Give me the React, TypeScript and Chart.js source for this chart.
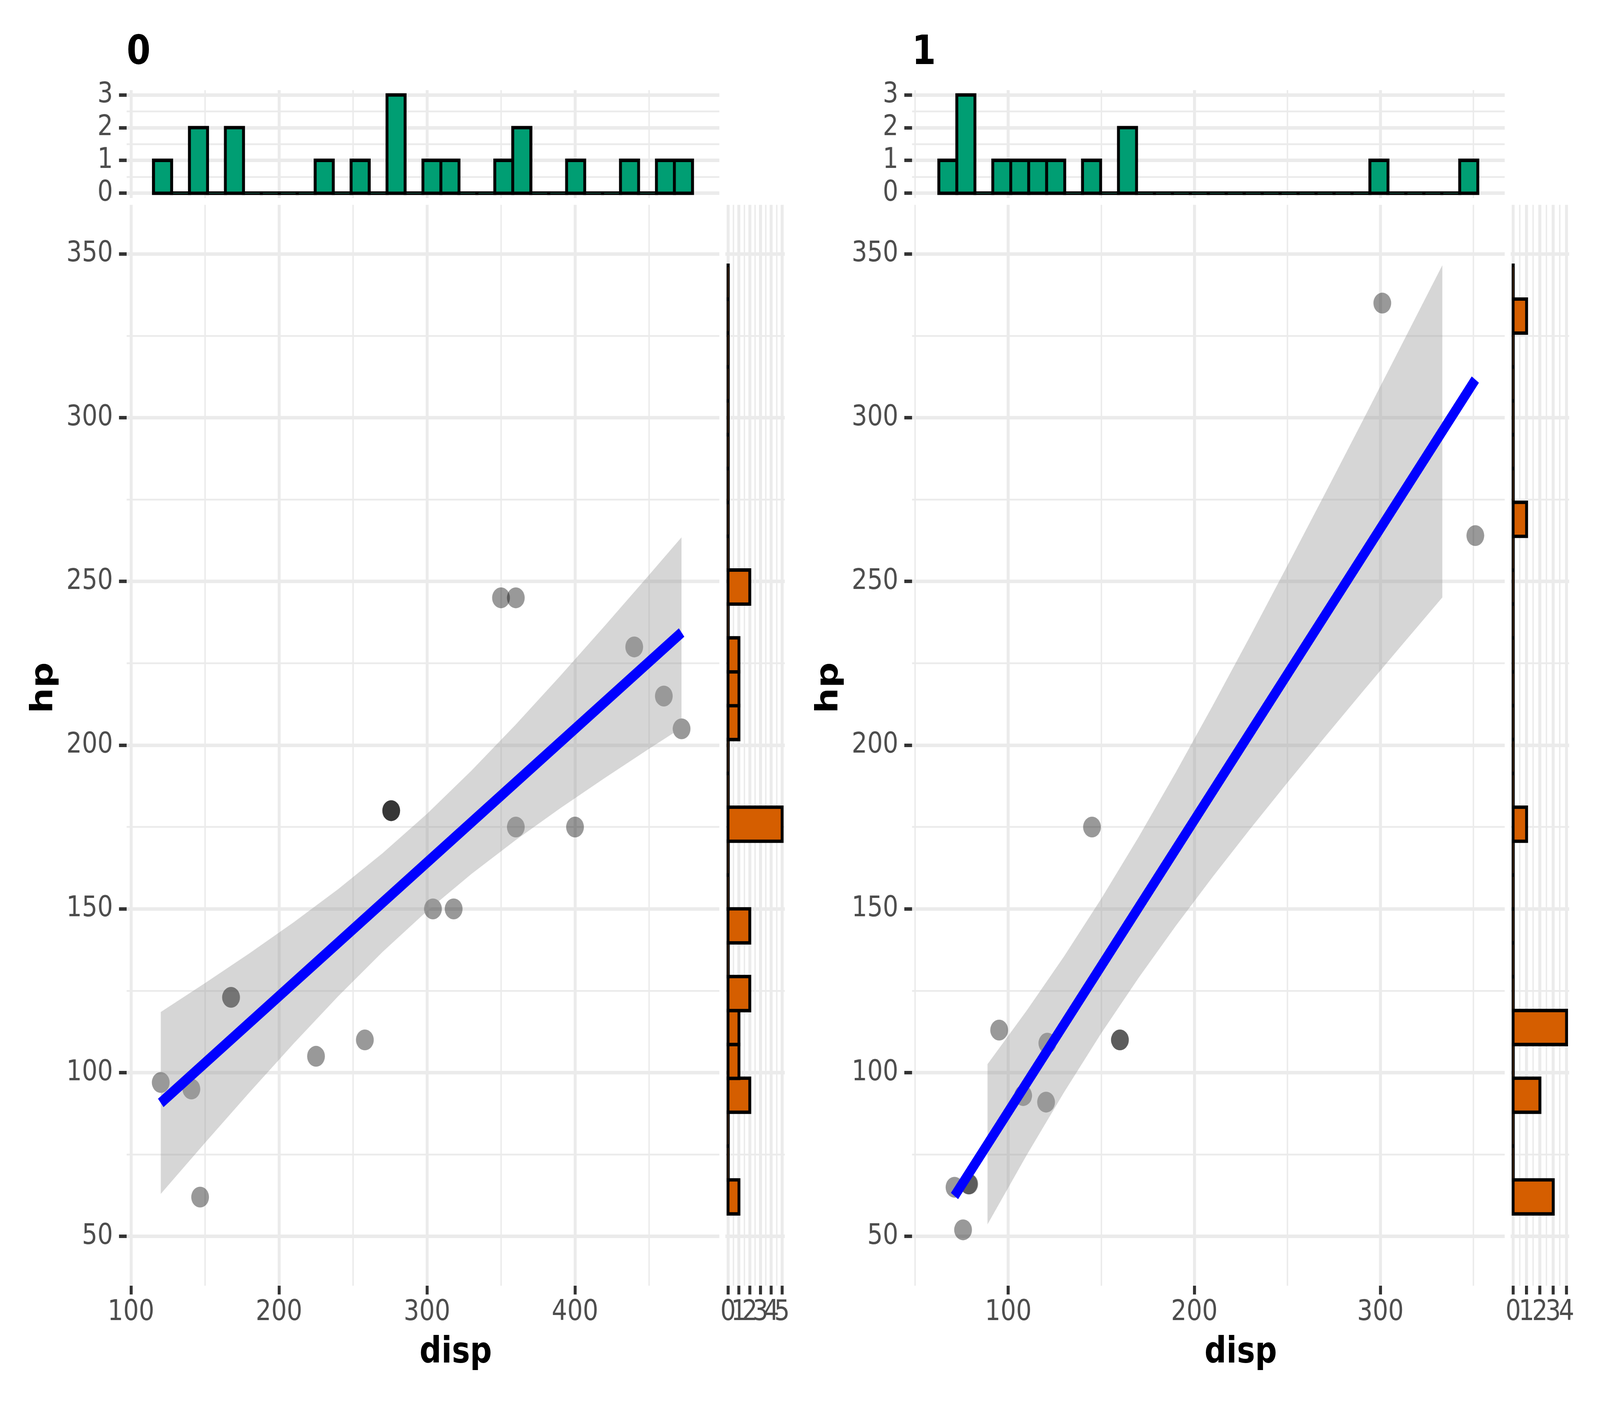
import React, { useEffect, useRef } from "react";
import { Chart, registerables } from "chart.js";

Chart.register(...registerables);

const FONT = "'DejaVu Sans', sans-serif";

// ---------------- data (mtcars, split by am) ----------------
const disp0 = [258, 360, 225, 360, 146.7, 140.8, 167.6, 167.6, 275.8, 275.8, 275.8, 472, 460, 440, 120.1, 318, 304, 350, 400];
const hp0 = [110, 175, 105, 245, 62, 95, 123, 123, 180, 180, 180, 205, 215, 230, 97, 150, 150, 245, 175];
const disp1 = [160, 160, 108, 78.7, 75.7, 71.1, 79, 120.3, 95.1, 351, 145, 301, 121];
const hp1 = [110, 110, 93, 66, 52, 65, 66, 91, 113, 264, 175, 335, 109];

// linear fit (blue line) end points
const fitDisp0 = [120.1, 472];
const fitHp0 = [90.75, 234.41];
const fitDisp1 = [71.1, 351];
const fitHp1 = [62.33, 311.64];

// confidence band (grey ribbon)
const bandDisp0 = [120.1, 150, 180, 210, 240, 270, 300, 330, 360, 390, 420, 450, 472];
const bandLow0 = [62.98, 78.57, 93.96, 108.95, 123.34, 136.88, 149.33, 160.66, 171.04, 180.73, 189.96, 198.89, 205.3];
const bandHigh0 = [118.52, 127.34, 136.44, 145.95, 156.05, 167.01, 179.05, 192.22, 206.33, 221.14, 236.4, 251.97, 263.52];
const bandDisp1 = [88.8, 110, 130, 150, 170, 190, 210, 230, 250, 270, 290, 310, 333.3];
const bandLow1 = [53.62, 74.91, 94.04, 112.06, 128.93, 144.81, 159.9, 174.42, 188.55, 202.4, 216.04, 229.55, 245.15];
const bandHigh1 = [102.57, 119.05, 135.55, 153.16, 171.91, 191.67, 212.21, 233.31, 254.82, 276.6, 298.58, 320.71, 346.61];

// top marginal histograms of disp (bin centres and counts)
const dispBins0 = [121.34, 133.48, 145.61, 157.75, 169.88, 182.02, 194.15, 206.29, 218.42, 230.56, 242.69, 254.82, 266.96, 279.09, 291.23, 303.36, 315.5, 327.63, 339.77, 351.9, 364.03, 376.17, 388.3, 400.44, 412.57, 424.71, 436.84, 448.98, 461.11, 473.24];
const dispCounts0 = [1, 0, 2, 0, 2, 0, 0, 0, 0, 1, 0, 1, 0, 3, 0, 1, 1, 0, 0, 1, 2, 0, 0, 1, 0, 0, 1, 0, 1, 1];
const dispBins1 = [67.56, 77.21, 86.87, 96.52, 106.17, 115.82, 125.47, 135.12, 144.78, 154.43, 164.08, 173.73, 183.38, 193.03, 202.69, 212.34, 221.99, 231.64, 241.29, 250.94, 260.6, 270.25, 279.9, 289.55, 299.2, 308.86, 318.51, 328.16, 337.81, 347.46];
const dispCounts1 = [1, 3, 0, 1, 1, 1, 1, 0, 1, 0, 2, 0, 0, 0, 0, 0, 0, 0, 0, 0, 0, 0, 0, 0, 1, 0, 0, 0, 0, 1];

// right marginal histograms of hp (bin centres and counts)
const hpBins = [62.07, 72.41, 82.76, 93.1, 103.45, 113.79, 124.14, 134.48, 144.83, 155.17, 165.52, 175.86, 186.21, 196.55, 206.9, 217.24, 227.59, 237.93, 248.28, 258.62, 268.97, 279.31, 289.66, 300.0, 310.34, 320.69, 331.03, 341.38];
const hpCounts0 = [1, 0, 0, 2, 1, 1, 2, 0, 2, 0, 0, 5, 0, 0, 1, 1, 1, 0, 2, 0, 0, 0, 0, 0, 0, 0, 0, 0];
const hpCounts1 = [3, 0, 0, 2, 0, 4, 0, 0, 0, 0, 0, 1, 0, 0, 0, 0, 0, 0, 0, 0, 1, 0, 0, 0, 0, 0, 1, 0];

// axes: ranges, tick positions and labelled ticks
const dispRange0 = [97.08, 497.51];
const dispRange1 = [48.26, 366.77];
const hpRange = [35, 365];
const topCountRange = [-0.15, 3.15];
const sideCountRange0 = [-0.25, 5.25];
const sideCountRange1 = [-0.2, 4.2];

const dispTicks0 = [100, 150, 200, 250, 300, 350, 400, 450];
const dispLabels0 = [100, 200, 300, 400];
const dispTicks1 = [50, 100, 150, 200, 250, 300, 350];
const dispLabels1 = [100, 200, 300];
const hpTicks = [50, 75, 100, 125, 150, 175, 200, 225, 250, 275, 300, 325, 350];
const hpLabels = [50, 100, 150, 200, 250, 300, 350];
const topCountTicks = [0, 0.5, 1, 1.5, 2, 2.5, 3];
const topCountLabels = [0, 1, 2, 3];
const sideCountTicks0 = [0, 0.5, 1, 1.5, 2, 2.5, 3, 3.5, 4, 4.5, 5];
const sideCountLabels0 = [0, 1, 2, 3, 4, 5];
const sideCountTicks1 = [0, 0.5, 1, 1.5, 2, 2.5, 3, 3.5, 4];
const sideCountLabels1 = [0, 1, 2, 3, 4];

const panelTitles = ["0", "1"];
const xTitle = "disp";
const yTitle = "hp";

// ---------------- styling / layout (design px of a 4800x3600 frame) ----------------
const W0 = 4800;
const H0 = 3600;
const fitK = (v: number, d: number) => (isFinite(v) && v > 0 ? v / d : 1);
const KX = typeof window !== "undefined" ? fitK(window.innerWidth, W0) : 1;
const KY = typeof window !== "undefined" ? fitK(window.innerHeight, H0) : 1;
const DPR = typeof window !== "undefined" && window.devicePixelRatio ? window.devicePixelRatio : 1;

const GRID = "#EBEBEB";
const MAJOR_W = 8.9;
const MINOR_W = 4.45;
const TICK_LEN = 23;
const TICK_FONT = 73.3;

type AxisOpts = {
  range: number[];
  ticks: number[];
  labels: number[];
  show: boolean;
  position: string;
  horizontal: boolean;
  size: number; // forced axis thickness
  padding?: number;
};

function linAxis(o: AxisOpts) {
  const isMajor = (v: number) => o.labels.some((m) => Math.abs(m - v) < 1e-9);
  return {
    type: "linear",
    position: o.position,
    min: o.range[0],
    max: o.range[1],
    offset: false,
    bounds: "data",
    grace: 0,
    afterBuildTicks: (s: any) => {
      s.ticks = o.ticks.map((v) => ({ value: v }));
    },
    afterFit: (s: any) => {
      if (o.horizontal) s.height = o.size;
      else s.width = o.size;
    },
    border: { display: false },
    grid: {
      display: true,
      offset: false,
      color: GRID,
      lineWidth: (c: any) => (c.tick && isMajor(c.tick.value) ? MAJOR_W : MINOR_W),
      drawTicks: o.show,
      tickLength: TICK_LEN,
      tickWidth: MAJOR_W,
      tickColor: (c: any) => (c.tick && isMajor(c.tick.value) ? "#333333" : "rgba(0,0,0,0)"),
    },
    ticks: {
      display: o.show,
      autoSkip: false,
      maxRotation: 0,
      minRotation: 0,
      padding: o.padding ?? 0,
      color: "#4D4D4D",
      font: { family: FONT, size: TICK_FONT },
      callback: (v: number) => (isMajor(v) ? String(v) : ""),
    },
  };
}

function baseOptions() {
  return {
    responsive: false,
    animation: false,
    devicePixelRatio: DPR,
    events: [],
    plugins: { legend: { display: false }, tooltip: { enabled: false }, title: { display: false } },
  } as any;
}

type Facet = {
  disp: number[];
  hp: number[];
  fitX: number[];
  fitY: number[];
  bandX: number[];
  bandLo: number[];
  bandHi: number[];
  xBins: number[];
  xCounts: number[];
  yCounts: number[];
  dispRange: number[];
  dispTicks: number[];
  dispLabels: number[];
  sideRange: number[];
  sideTicks: number[];
  sideLabels: number[];
  mainArea: number[];
  mainBox: number[];
  topArea: number[];
  topBox: number[];
  sideArea: number[];
  sideBox: number[];
  titleX: number;
  hpX: number;
  dispX: number;
};

const ROW_TOP = [230.7, 507.2];
const ROW_MAIN = [524.5, 3291.5];

const facets: Facet[] = [
  {
    disp: disp0, hp: hp0, fitX: fitDisp0, fitY: fitHp0,
    bandX: bandDisp0, bandLo: bandLow0, bandHi: bandHigh0,
    xBins: dispBins0, xCounts: dispCounts0, yCounts: hpCounts0,
    dispRange: dispRange0, dispTicks: dispTicks0, dispLabels: dispLabels0,
    sideRange: sideCountRange0, sideTicks: sideCountTicks0, sideLabels: sideCountLabels0,
    mainArea: [380, ROW_MAIN[0], 2158, ROW_MAIN[1]], mainBox: [100, 450, 2200, 3420],
    topArea: [380, ROW_TOP[0], 2158, ROW_TOP[1]], topBox: [100, 150, 2200, 580],
    sideArea: [2176.2, ROW_MAIN[0], 2354.2, ROW_MAIN[1]], sideBox: [2100, 450, 2420, 3420],
    titleX: 380, hpX: 157, dispX: 1367.1,
  },
  {
    disp: disp1, hp: hp1, fitX: fitDisp1, fitY: fitHp1,
    bandX: bandDisp1, bandLo: bandLow1, bandHi: bandHigh1,
    xBins: dispBins1, xCounts: dispCounts1, yCounts: hpCounts1,
    dispRange: dispRange1, dispTicks: dispTicks1, dispLabels: dispLabels1,
    sideRange: sideCountRange1, sideTicks: sideCountTicks1, sideLabels: sideCountLabels1,
    mainArea: [2736, ROW_MAIN[0], 4514, ROW_MAIN[1]], mainBox: [2450, 450, 4560, 3420],
    topArea: [2736, ROW_TOP[0], 4514, ROW_TOP[1]], topBox: [2450, 150, 4560, 580],
    sideArea: [4531.5, ROW_MAIN[0], 4707.5, ROW_MAIN[1]], sideBox: [4460, 450, 4790, 3420],
    titleX: 2736, hpX: 2512.5, dispX: 3722.2,
  },
];

// geometry helper: integer canvas box + exact chart area inside it
type Geo = {
  L: number; T: number; W: number; H: number;
  left: number; top: number; right: number; bottom: number;
  areaW: number; areaH: number;
};
function geometry(box: number[], area: number[]): Geo {
  const [L, T, R, B] = box;
  return {
    L, T, W: R - L, H: B - T,
    left: area[0] - L,
    top: area[1] - T,
    right: R - area[2],
    bottom: B - area[3],
    areaW: area[2] - area[0],
    areaH: area[3] - area[1],
  };
}

function mainConfig(f: Facet, g: Geo) {
  const options = baseOptions();
  options.layout = { autoPadding: false, padding: { left: 0, top: g.top, right: g.right, bottom: 0 } };
  options.scales = {
    x: linAxis({ range: f.dispRange, ticks: f.dispTicks, labels: f.dispLabels, show: true, position: "bottom", horizontal: true, size: g.bottom, padding: 2 }),
    y: linAxis({ range: hpRange, ticks: hpTicks, labels: hpLabels, show: true, position: "left", horizontal: false, size: g.left, padding: 18 }),
  };
  return {
    type: "scatter",
    data: {
      datasets: [
        {
          type: "line",
          data: f.fitX.map((x, i) => ({ x, y: f.fitY[i] })),
          borderColor: "#0000FF",
          borderWidth: 27,
          borderCapStyle: "butt",
          pointRadius: 0,
          fill: false,
          order: 0,
        },
        {
          type: "line",
          data: f.bandX.map((x, i) => ({ x, y: f.bandHi[i] })),
          borderColor: "rgba(0,0,0,0)",
          borderWidth: 0,
          pointRadius: 0,
          fill: "+1",
          backgroundColor: "rgba(153,153,153,0.4)",
          order: 1,
        },
        {
          type: "line",
          data: f.bandX.map((x, i) => ({ x, y: f.bandLo[i] })),
          borderColor: "rgba(0,0,0,0)",
          borderWidth: 0,
          pointRadius: 0,
          fill: false,
          order: 2,
        },
        {
          type: "scatter",
          data: f.disp.map((x, i) => ({ x, y: f.hp[i] })),
          pointRadius: 26.7,
          backgroundColor: "rgba(0,0,0,0.4)",
          borderColor: "rgba(0,0,0,0)",
          borderWidth: 0,
          order: 3,
        },
      ],
    },
    options,
  };
}

// Histogram rectangles: the outline is centred on the bin edges (as in ggplot),
// so each bar is widened by one stroke width and extended half a stroke past 0 and the count.
function topConfig(f: Facet, g: Geo) {
  const options = baseOptions();
  options.layout = { autoPadding: false, padding: { left: 0, top: g.top, right: g.right, bottom: g.bottom } };
  options.scales = {
    x: linAxis({ range: f.dispRange, ticks: f.dispTicks, labels: f.dispLabels, show: false, position: "bottom", horizontal: true, size: 0 }),
    y: linAxis({ range: topCountRange, ticks: topCountTicks, labels: topCountLabels, show: true, position: "left", horizontal: false, size: g.left, padding: 18 }),
  };
  const pxPerCount = g.areaH / (topCountRange[1] - topCountRange[0]);
  const pxPerDisp = g.areaW / (f.dispRange[1] - f.dispRange[0]);
  const half = MAJOR_W / 2 / pxPerCount;
  const thickness = (f.xBins[1] - f.xBins[0]) * pxPerDisp + MAJOR_W;
  return {
    type: "bar",
    data: {
      datasets: [
        {
          type: "bar",
          data: f.xBins.map((x, i) => ({ x, y: [-half, f.xCounts[i] + half] })),
          backgroundColor: "#009E73",
          borderColor: "#000000",
          borderWidth: MAJOR_W,
          borderSkipped: false,
          barThickness: thickness,
          grouped: false,
        },
      ],
    },
    options,
  };
}

function sideConfig(f: Facet, g: Geo) {
  const options = baseOptions();
  options.indexAxis = "y";
  options.layout = { autoPadding: false, padding: { left: g.left, top: g.top, right: g.right, bottom: 0 } };
  options.scales = {
    x: linAxis({ range: f.sideRange, ticks: f.sideTicks, labels: f.sideLabels, show: true, position: "bottom", horizontal: true, size: g.bottom, padding: 2 }),
    y: linAxis({ range: hpRange, ticks: hpTicks, labels: hpLabels, show: false, position: "left", horizontal: false, size: 0 }),
  };
  const pxPerCount = g.areaW / (f.sideRange[1] - f.sideRange[0]);
  const pxPerHp = g.areaH / (hpRange[1] - hpRange[0]);
  const half = MAJOR_W / 2 / pxPerCount;
  const thickness = (hpBins[1] - hpBins[0]) * pxPerHp + MAJOR_W;
  return {
    type: "bar",
    data: {
      datasets: [
        {
          type: "bar",
          data: hpBins.map((y, i) => ({ x: [-half, f.yCounts[i] + half], y })),
          backgroundColor: "#D55E00",
          borderColor: "#000000",
          borderWidth: MAJOR_W,
          borderSkipped: false,
          barThickness: thickness,
          grouped: false,
        },
      ],
    },
    options,
  };
}

function ChartCanvas({ box, area, make }: { box: number[]; area: number[]; make: (g: Geo) => any }) {
  const ref = useRef<HTMLCanvasElement | null>(null);
  const g = geometry(box, area);
  useEffect(() => {
    const chart = new Chart(ref.current as HTMLCanvasElement, make(g));
    return () => chart.destroy();
  }, []);
  return (
    <canvas
      ref={ref}
      width={g.W}
      height={g.H}
      style={{ position: "absolute", left: g.L, top: g.T, width: g.W, height: g.H }}
    />
  );
}

export default function App() {
  return (
    <div
      style={{
        position: "absolute",
        left: 0,
        top: 0,
        width: W0 * KX,
        height: H0 * KY,
        background: "#FFFFFF",
        overflow: "hidden",
      }}
    >
      <div
        style={{
          position: "absolute",
          left: 0,
          top: 0,
          width: W0,
          height: H0,
          transform: `scale(${KX}, ${KY})`,
          transformOrigin: "0 0",
          background: "#FFFFFF",
        }}
      >
        {facets.map((f, i) => (
          <ChartCanvas key={"t" + i} box={f.topBox} area={f.topArea} make={(g) => topConfig(f, g)} />
        ))}
        {facets.map((f, i) => (
          <React.Fragment key={"m" + i}>
            <ChartCanvas box={f.mainBox} area={f.mainArea} make={(g) => mainConfig(f, g)} />
            <ChartCanvas box={f.sideBox} area={f.sideArea} make={(g) => sideConfig(f, g)} />
          </React.Fragment>
        ))}
        <svg width={W0} height={H0} style={{ position: "absolute", left: 0, top: 0, pointerEvents: "none" }}>
          {facets.map((f, i) => (
            <g key={"txt" + i} fontFamily={FONT} fontWeight="bold" fill="#000000">
              <text x={f.titleX} y={164} fontSize={103}>
                {panelTitles[i]}
              </text>
              <text x={f.dispX} y={3489} fontSize={91.7} textAnchor="middle">
                {xTitle}
              </text>
              <text transform={`translate(${f.hpX},1761) rotate(-90)`} fontSize={91.7} textAnchor="middle">
                {yTitle}
              </text>
            </g>
          ))}
        </svg>
      </div>
    </div>
  );
}
